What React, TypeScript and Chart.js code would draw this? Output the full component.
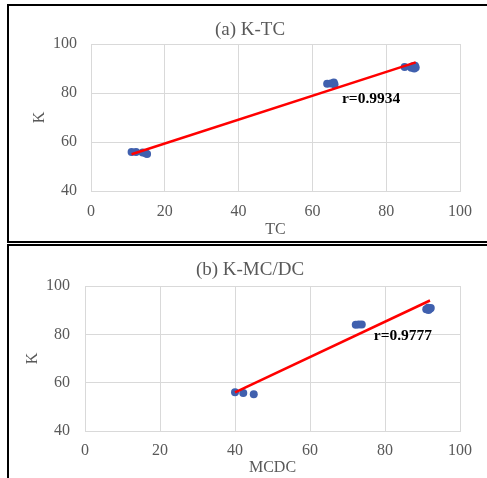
import React, { useEffect, useRef } from "react";
import { Chart, registerables } from "chart.js";

Chart.register(...registerables);

// Panel (a) K-TC
const tcValues = [11, 12.2, 14, 14.8, 15.2, 64, 65, 65.8, 66, 85, 86.8, 87.2, 87.8, 88, 87.6];
const kValuesA = [55.9, 55.9, 55.7, 55.4, 55.1, 83.8, 83.9, 84.3, 83.5, 90.6, 90.3, 90.9, 91.1, 90.4, 90.0];
const trendXA = [11, 88];
const trendYA = [55, 92.5];
const titleA = "(a) K-TC";
const xTitleA = "TC";
const rTextA = "r=0.9934";
const rPosA = [68, 77.4];

// Panel (b) K-MC/DC
const mcdcValues = [40, 42.2, 45, 72.2, 73, 73.8, 91, 91.5, 92, 92.2, 91.6];
const kValuesB = [56.0, 55.7, 55.2, 84.0, 84.1, 84.1, 90.4, 91.0, 90.6, 90.9, 90.1];
const trendXB = [40, 92];
const trendYB = [56, 94];
const titleB = "(b) K-MC/DC";
const xTitleB = "MCDC";
const rTextB = "r=0.9777";
const rPosB = [77, 79.3];

const yTitle = "K";
const xMin = 0, xMax = 100, xStep = 20;
const yMin = 40, yMax = 100, yStep = 20;

const FONT = "'Liberation Serif', 'Times New Roman', serif";
const GRID = "#d9d9d9";
const TEXT = "#595959";

type PanelCfg = {
  xs: number[]; ys: number[]; tx: number[]; ty: number[];
  title: string; xTitle: string; rText: string; rPos: number[];
  width: number; height: number;
  padTop: number; yAxisW: number; xAxisH: number;
  yTickPad: number; xTickPad: number; yTitlePad: number; xTitlePad: number;
  titleY: number;
};

function makeChart(canvas: HTMLCanvasElement, c: PanelCfg) {
  const pts = c.xs.map((x, i) => ({ x, y: c.ys[i] }));
  const line = c.tx.map((x, i) => ({ x, y: c.ty[i] }));
  const overlay = {
    id: "overlay",
    afterDatasetsDraw(chart: any) {
      const ctx = chart.ctx;
      const xs = chart.scales.x, ys = chart.scales.y;
      ctx.save();
      ctx.fillStyle = "#000";
      ctx.font = `bold 15.5px ${FONT}`;
      ctx.textAlign = "left";
      ctx.textBaseline = "middle";
      ctx.fillText(c.rText, xs.getPixelForValue(c.rPos[0]), ys.getPixelForValue(c.rPos[1]));
      ctx.fillStyle = TEXT;
      ctx.font = `19px ${FONT}`;
      ctx.textAlign = "center";
      ctx.fillText(c.title, 240, c.titleY);
      ctx.restore();
    },
  };
  return new Chart(canvas, {
    type: "scatter",
    data: {
      datasets: [
        {
          type: "line",
          data: line,
          borderColor: "#ff0000",
          borderWidth: 2.5,
          pointRadius: 0,
          showLine: true,
          fill: false,
        } as any,
        {
          data: pts,
          backgroundColor: "#4060ae",
          borderColor: "#4060ae",
          pointRadius: 4,
          borderWidth: 0,
        },
      ],
    },
    options: {
      animation: false,
      responsive: false,
      layout: { padding: { top: c.padTop, right: 27, left: 0, bottom: 0 } },
      plugins: { legend: { display: false }, tooltip: { enabled: false }, title: { display: false } },
      scales: {
        x: {
          type: "linear",
          min: xMin, max: xMax,
          ticks: { stepSize: xStep, color: TEXT, font: { family: FONT, size: 16 }, padding: c.xTickPad, maxRotation: 0 },
          grid: { color: GRID, drawTicks: false },
          border: { color: GRID },
          title: { display: true, text: c.xTitle, color: TEXT, font: { family: FONT, size: 16 }, padding: { top: 0, bottom: c.xTitlePad } },
          afterFit(scale: any) { scale.height = c.xAxisH; },
        },
        y: {
          type: "linear",
          min: yMin, max: yMax,
          ticks: { stepSize: yStep, color: TEXT, font: { family: FONT, size: 16 }, padding: c.yTickPad },
          grid: { color: GRID, drawTicks: false },
          border: { color: GRID },
          title: { display: true, text: yTitle, color: TEXT, font: { family: FONT, size: 16 }, padding: { top: c.yTitlePad, bottom: 0 } },
          afterFit(scale: any) { scale.width = c.yAxisW; },
        },
      },
    },
    plugins: [overlay],
  });
}

const cfgA: PanelCfg = {
  xs: tcValues, ys: kValuesA, tx: trendXA, ty: trendYA,
  title: titleA, xTitle: xTitleA, rText: rTextA, rPos: rPosA,
  width: 477, height: 234, padTop: 37, yAxisW: 81, xAxisH: 50,
  yTickPad: 14, xTickPad: 11, yTitlePad: 20.4, xTitlePad: 1.4, titleY: 23,
};
const cfgB: PanelCfg = {
  xs: mcdcValues, ys: kValuesB, tx: trendXB, ty: trendYB,
  title: titleB, xTitle: xTitleB, rText: rTextB, rPos: rPosB,
  width: 477, height: 232, padTop: 40, yAxisW: 75, xAxisH: 47,
  yTickPad: 15, xTickPad: 10, yTitlePad: 13.4, xTitlePad: 0.4, titleY: 24,
};

function Panel({ cfg, left, top }: { cfg: PanelCfg; left: number; top: number }) {
  const ref = useRef<HTMLCanvasElement>(null);
  useEffect(() => {
    if (!ref.current) return;
    const ch = makeChart(ref.current, cfg);
    return () => ch.destroy();
  }, [cfg]);
  return (
    <canvas
      ref={ref}
      width={cfg.width}
      height={cfg.height}
      style={{ position: "fixed", left, top, width: cfg.width, height: cfg.height }}
    />
  );
}

export default function App() {
  return (
    <div style={{ position: "fixed", left: 0, top: 0, width: 487, height: 478, background: "#fff", overflow: "hidden" }}>
      <div style={{ position: "absolute", left: 7, top: 4, width: 490, height: 239, boxSizing: "border-box", borderTop: "2px solid #000", borderLeft: "2px solid #000", borderBottom: "2px solid #000" }} />
      <div style={{ position: "absolute", left: 7, top: 244, width: 490, height: 245, boxSizing: "border-box", borderTop: "2px solid #000", borderLeft: "2px solid #000" }} />
      <Panel cfg={cfgA} left={10} top={7} />
      <Panel cfg={cfgB} left={10} top={246} />
    </div>
  );
}
